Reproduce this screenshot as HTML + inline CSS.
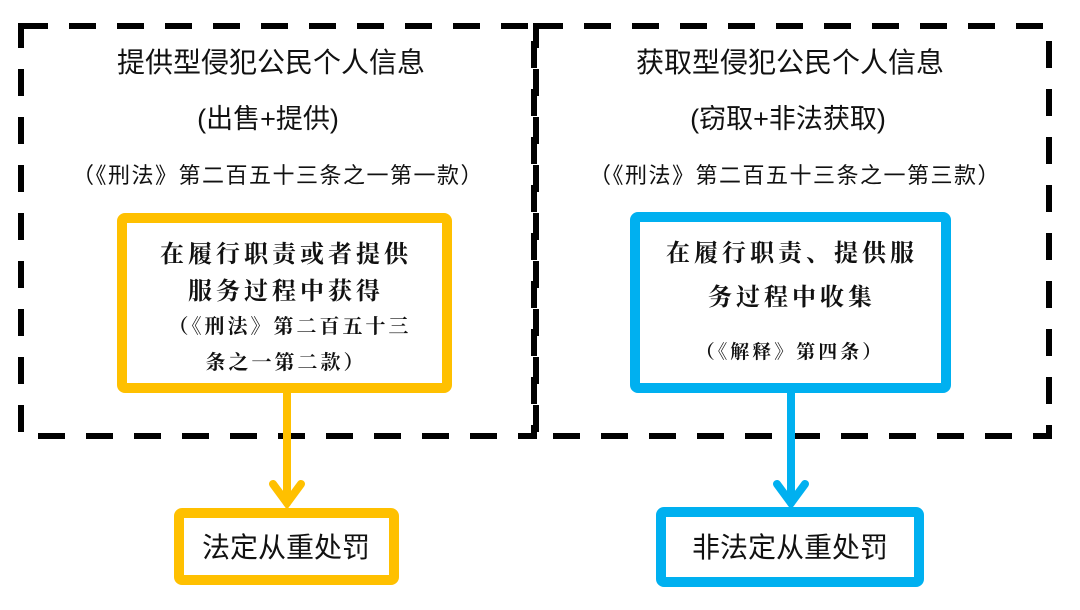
<!DOCTYPE html>
<html><head><meta charset="utf-8"><style>
body{margin:0;background:#fff;}
svg text{font-family:"Liberation Sans","Noto Sans CJK SC",sans-serif;fill:#111;text-anchor:middle;}
.k{font-family:"Noto Serif CJK SC","Liberation Serif",serif;font-weight:bold;}
</style></head><body>
<svg width="1080" height="605" viewBox="0 0 1080 605" xmlns="http://www.w3.org/2000/svg">
<g fill="none" stroke="#000" stroke-width="6" stroke-dasharray="27 21">
<rect x="21" y="26" width="513" height="410"/>
<rect x="536" y="26" width="513" height="410"/>
</g>
<text x="271" y="72" font-size="28">提供型侵犯公民个人信息</text>
<text x="268" y="128" font-size="27">(出售+提供)</text>
<text x="278" y="183" font-size="22" letter-spacing="1.5">（《刑法》第二百五十三条之一第一款）</text>
<text x="790" y="72" font-size="28">获取型侵犯公民个人信息</text>
<text x="788" y="128" font-size="27">(窃取+非法获取)</text>
<text x="795" y="183" font-size="22" letter-spacing="1.5">（《刑法》第二百五十三条之一第三款）</text>

<rect x="122" y="218" width="325" height="170" rx="3" fill="#fff" stroke="#FFC000" stroke-width="10"/>
<text class="k" x="286" y="262" font-size="24" letter-spacing="4">在履行职责或者提供</text>
<text class="k" x="286" y="299" font-size="24" letter-spacing="4">服务过程中获得</text>
<text class="k" x="290" y="333" font-size="20" letter-spacing="3">（《刑法》第二百五十三</text>
<text class="k" x="286" y="369" font-size="20" letter-spacing="3">条之一第二款）</text>
<g stroke="#FFC000" stroke-width="8" fill="none" stroke-linecap="round">
<line x1="287" y1="393" x2="287" y2="503"/>
<polyline points="273,484 287,503 301,484"/>
</g>
<rect x="179" y="513" width="215" height="67" rx="3" fill="#fff" stroke="#FFC000" stroke-width="10"/>
<text x="286" y="557" font-size="28">法定从重处罚</text>

<rect x="635" y="217" width="311" height="171" rx="3" fill="#fff" stroke="#00B0F0" stroke-width="10"/>
<text class="k" x="792" y="261" font-size="24" letter-spacing="4">在履行职责、提供服</text>
<text class="k" x="792" y="305" font-size="24" letter-spacing="4">务过程中收集</text>
<text class="k" x="790" y="358" font-size="19" letter-spacing="3">（《解释》第四条）</text>
<g stroke="#00B0F0" stroke-width="8" fill="none" stroke-linecap="round">
<line x1="791" y1="393" x2="791" y2="503"/>
<polyline points="777,484 791,503 805,484"/>
</g>
<rect x="661" y="512" width="258" height="70" rx="3" fill="#fff" stroke="#00B0F0" stroke-width="10"/>
<text x="790" y="557" font-size="28">非法定从重处罚</text>
</svg>
</body></html>
